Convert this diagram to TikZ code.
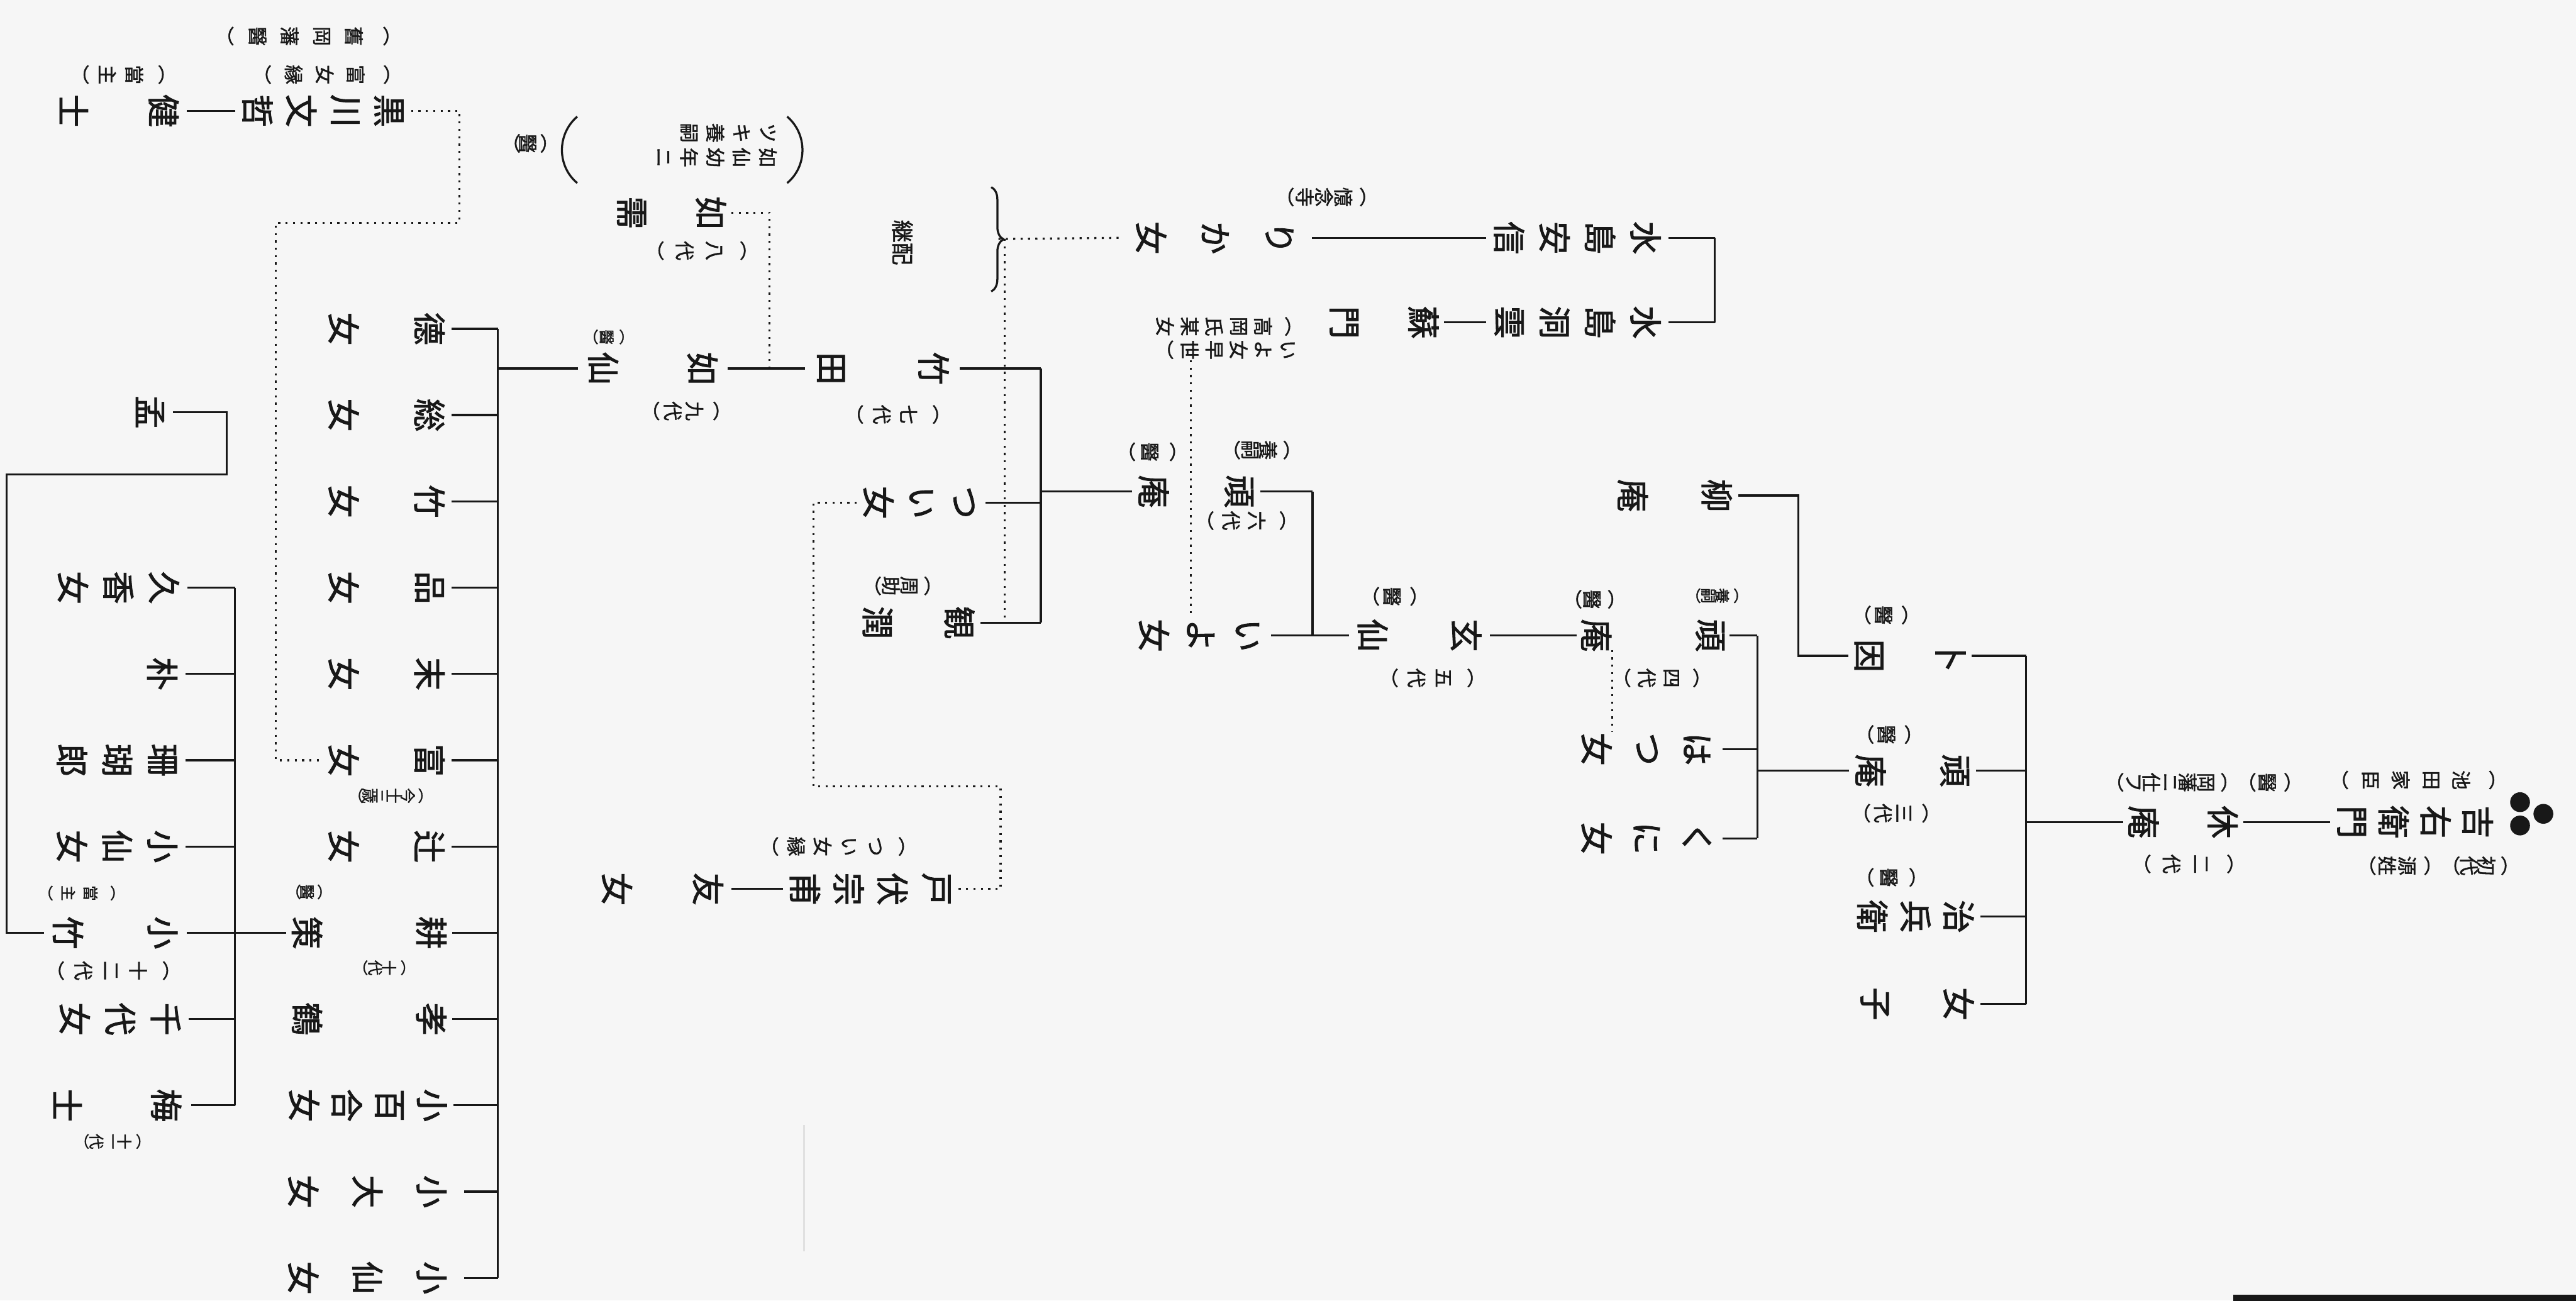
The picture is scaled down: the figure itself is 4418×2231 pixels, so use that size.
\documentclass[tikz,border=0pt]{standalone}
\usepackage{fontspec}
\newfontfamily\jp[FakeBold=1.8]{Noto Sans CJK JP}
\newfontfamily\jpa[FakeBold=1.4]{Noto Sans CJK JP}
\usetikzlibrary{decorations.pathreplacing}
\definecolor{paper}{RGB}{246,246,246}
\definecolor{ink}{RGB}{24,24,24}
\ExplSyntaxOn
\dim_new:N \l_vs_pitch_dim
\NewDocumentCommand\vs{m m}
 {
  \dim_set:Nn \l_vs_pitch_dim {#1}
  \vbox:n
   {
    \offinterlineskip
    \tl_map_inline:nn {#2}
     { \hbox_to_wd:nn {1.05em} { \hss \vbox_to_ht:nn {\l_vs_pitch_dim} { \vss \hbox:n {##1} \vss } \hss } }
   }
 }
\ExplSyntaxOff
\begin{document}
\begin{tikzpicture}[x=0.01cm,y=-0.01cm,
  nm/.style={rotate=-90,anchor=north,inner sep=0pt,text=ink,font=\jp\fontsize{16}{16}\selectfont},
  an/.style={rotate=-90,anchor=north,inner sep=0pt,text=ink,font=\jpa\fontsize{9.5}{9.5}\selectfont},
  as/.style={rotate=-90,anchor=north,inner sep=0pt,text=ink,font=\jpa\fontsize{7.5}{7.5}\selectfont},
  ln/.style={draw=ink,line width=1pt},
  dt/.style={draw=ink,line width=1pt,dash pattern=on 1pt off 2.6pt}]
\fill[paper] (0,0) rectangle (4418,2231);
\useasboundingbox (0,0) rectangle (4418,2231);
% faint show-through line
\draw[black!12,line width=1pt] (1379,1930) -- (1379,2146);
% ---------- root family
\node[nm] (root) at (4286,1410) {\vs{.72cm}{吉右衛門}};
\fill[ink] (4322,1376) circle (0.17cm) (4322,1416) circle (0.17cm) (4362,1396) circle (0.17cm);
\node[an] (aR1) at (4300,1338) {\vs{.52cm}{︵池田家臣︶}};
\node[an] (aR2) at (4310,1485) {\vs{.3cm}{︵初代︶}};
\node[an] (aR3) at (4180,1485) {\vs{.34cm}{︵源姓︶}};
\node[nm] (kyuan) at (3847,1410) {\vs{.68cm}{休　庵}};
\node[an] (aK1) at (3940,1342) {\vs{.34cm}{︵醫︶}};
\node[an] (aK2) at (3830,1342) {\vs{.31cm}{︵岡藩ニ仕フ︶}};
\node[an] (aK3) at (3850,1482) {\vs{.5cm}{︵二代︶}};
\node[nm] (bokuin) at (3381,1125) {\vs{.70cm}{卜　因}};
\node[an] (aB1) at (3285,1055) {\vs{.36cm}{︵醫︶}};
\node[nm] (ganan3) at (3389,1322) {\vs{.72cm}{頑　庵}};
\node[an] (aG3a) at (3290,1260) {\vs{.36cm}{︵醫︶}};
\node[an] (aG3b) at (3320,1395) {\vs{.36cm}{︵三代︶}};
\node[nm] (jihei) at (3397,1572) {\vs{.74cm}{治兵衛}};
\node[an] (aJ) at (3300,1505) {\vs{.4cm}{︵醫︶}};
\node[nm] (joshi) at (3396,1722) {\vs{.72cm}{女　子}};
\coordinate (bRt) at (3475,1125);
\coordinate (bRb) at (3475,1722);
\draw[ln] (root.south) -- (kyuan.north);
\draw[ln] (bRt) -- (bRb);
\draw[ln] (kyuan.south) -- (kyuan.south -| bRt);
\foreach \c in {bokuin,ganan3,jihei,joshi} \draw[ln] (bRt |- \c.north) -- (\c.north);
% ---------- bokuin -> ryuan
\node[nm] (ryuan) at (2981,850) {\vs{.72cm}{柳　庵}};
\coordinate (kR) at (3084,1000);
\draw[ln] (bokuin.south) -| (kR) |- (ryuan.north);
% ---------- ganan3 children
\node[nm] (ganan4) at (2966,1090) {\vs{.65cm}{頑　　庵}};
\node[as] (aG4a) at (2990,1022) {\vs{.24cm}{︵養嗣︶}};
\node[an] (aG4b) at (2779,1028) {\vs{.32cm}{︵醫︶}};
\node[an] (aG4c) at (2930,1163) {\vs{.42cm}{︵四代︶}};
\node[nm] (hatsu) at (2954,1285) {\vs{.86cm}{はつ女}};
\node[nm] (kuni) at (2954,1438) {\vs{.86cm}{くに女}};
\coordinate (b3t) at (3014,1090);
\coordinate (b3b) at (3014,1438);
\draw[ln] (b3t) -- (b3b);
\draw[ln] (ganan3.south) -- (ganan3.south -| b3t);
\foreach \c in {ganan4,hatsu,kuni} \draw[ln] (b3t |- \c.north) -- (\c.north);
\coordinate (dh) at (2765,1115);
\draw[dt] (dh) -- (dh |- hatsu.west);
% ---------- gensen
\node[nm] (gensen) at (2555,1090) {\vs{.80cm}{玄　仙}};
\node[an] (aGs1) at (2442,1023) {\vs{.36cm}{︵醫︶}};
\node[an] (aGs2) at (2545,1163) {\vs{.46cm}{︵五代︶}};
\draw[ln] (ganan4.south) -- (gensen.north);
\node[nm] (ganan6) at (2162,843) {\vs{.73cm}{頑　庵}};
\node[an] (aG6a) at (2222,772) {\vs{.31cm}{︵養嗣︶}};
\node[an] (aG6b) at (2031,775) {\vs{.39cm}{︵醫︶}};
\node[an] (aG6c) at (2222,893) {\vs{.44cm}{︵六代︶}};
\node[nm] (iyo) at (2180,1090) {\vs{.80cm}{いよ女}};
\coordinate (b5t) at (2251,843);
\coordinate (b5b) at (2251,1090);
\draw[ln] (b5t) -- (b5b);
\draw[ln] (gensen.south) -- (b5b) -- (iyo.north);
\draw[ln] (b5t) -- (ganan6.north);
% ---------- mizushima
\node[nm] (mizu1) at (2862,408) {\vs{.78cm}{水島安信}};
\node[nm] (mizu2) at (2862,553) {\vs{.78cm}{水島洞雲}};
\node[nm] (somon) at (2476,553) {\vs{.68cm}{蘇　門}};
\node[nm] (rika) at (2250,408) {\vs{1.1cm}{りか女}};
\node[an] (aRk) at (2354,338) {\vs{.33cm}{︵憶念寺︶}};
\node[an] (aTk1) at (2230,560) {\vs{.42cm}{︵高岡氏某女}};
\node[an] (aTk2) at (2230,600) {\vs{.42cm}{いよ女早世︶}};
\coordinate (bMt) at (2941,408);
\coordinate (bMb) at (2941,553);
\draw[ln] (bMt) -- (bMb);
\draw[ln] (bMt) -- (mizu1.north);
\draw[ln] (bMb) -- (mizu2.north);
\draw[ln] (mizu2.south) -- (somon.north);
\draw[ln] (mizu1.south) -- (rika.north);
\coordinate (dI) at (2042,618);
\draw[dt] (dI) -- (dI |- iyo.west);
% ---------- keihai
\coordinate (bt) at (1712,410);
\draw[ln,decorate,decoration={brace,amplitude=6pt}] (1700,321) -- (1700,500);
\node[rotate=-90,inner sep=0pt,text=ink,font=\jpa\fontsize{11}{11}\selectfont] (keihai) at (1548,416) {継配};
\draw[dt] (rika.south) -- (bt);
% ---------- ganan6 children
\node[nm] (takeda) at (1646,632) {\vs{.88cm}{竹　田}};
\node[an] (aT) at (1628,711) {\vs{.46cm}{︵七代︶}};
\node[nm] (tsui) at (1690,862) {\vs{.73cm}{つい女}};
\node[nm] (kanjun) at (1681,1068) {\vs{.70cm}{観　潤}};
\node[an] (aKj) at (1606,1005) {\vs{.31cm}{︵周助︶}};
\coordinate (b6t) at (1785,632);
\coordinate (b6b) at (1785,1068);
\draw[ln] (b6t) -- (b6b);
\draw[ln] (ganan6.south) -- (ganan6.south -| b6t);
\foreach \c in {takeda,tsui,kanjun} \draw[ln] (b6t |- \c.north) -- (\c.north);
\coordinate (dk) at (1723,410);
\draw[dt] (dk) -- (dk |- kanjun.north);
% ---------- tobuse
\node[nm] (tobuse) at (1644,1525) {\vs{.75cm}{戸伏宗甫}};
\node[an] (aTb) at (1569,1452) {\vs{.45cm}{︵つい女縁︶}};
\node[nm] (tomo) at (1254,1525) {\vs{.78cm}{友　女}};
\draw[ln] (tobuse.south) -- (tomo.north);
\draw[dt] (tsui.south) -- (1395,862) -- (1395,1349) -- (1716,1349) |- (tobuse.north);
% ---------- nyosen 9
\node[nm] (nyosen9) at (1248,632) {\vs{.85cm}{如　仙}};
\node[an] (aN9a) at (1247,705) {\vs{.37cm}{︵九代︶}};
\node[as] (aN9b) at (1080,578) {\vs{.26cm}{︵醫︶}};
\draw[ln] (takeda.south) -- (nyosen9.north);
% ---------- eighth generation
\node[an] (aH1) at (1340,228) {\vs{.45cm}{ツキ養嗣}};
\node[an] (aH2) at (1340,270) {\vs{.45cm}{如仙幼年ニ}};
\draw[ln] (1350,200) .. controls (1385,230) and (1385,285) .. (1350,314);
\draw[ln] (990,200) .. controls (955,230) and (955,285) .. (990,314);
\node[an] (aH3) at (946,246) {\vs{.27cm}{︵醫︶}};
\node[nm] (hachi) at (1254,365) {\vs{.68cm}{如　需}};
\node[an] (aH4) at (1300,430) {\vs{.5cm}{︵八代︶}};
\draw[dt] (1320,632) -- (1320,365) -- (hachi.north);
% ---------- children of nyosen 9
\node[nm] (k0) at (774,564) {\vs{.735cm}{德　女}};
\node[nm] (k1) at (774,712) {\vs{.735cm}{総　女}};
\node[nm] (k2) at (774,860) {\vs{.735cm}{竹　女}};
\node[nm] (k3) at (774,1008) {\vs{.735cm}{品　女}};
\node[nm] (k4) at (774,1156) {\vs{.735cm}{末　女}};
\node[nm] (k5) at (774,1304) {\vs{.735cm}{富　女}};
\node[as] (aK5) at (733,1365) {\vs{.22cm}{︵今十三歳︶}};
\node[nm] (k6) at (774,1452) {\vs{.735cm}{辻　女}};
\node[nm] (k7) at (776,1600) {\vs{.71cm}{耕　　策}};
\node[as] (aK7a) at (704,1660) {\vs{.24cm}{︵十代︶}};
\node[as] (aK7b) at (560,1530) {\vs{.22cm}{︵醫︶}};
\node[nm] (k8) at (776,1748) {\vs{.71cm}{孝　　鶴}};
\node[nm] (k9) at (778,1896) {\vs{.73cm}{小百合女}};
\node[nm] (k10) at (796,2044) {\vs{1.1cm}{小大女}};
\node[nm] (k11) at (796,2192) {\vs{1.1cm}{小仙女}};
\coordinate (b9t) at (854,564);
\coordinate (b9b) at (854,2192);
\draw[ln] (b9t) -- (b9b);
\draw[ln] (nyosen9.south) -- (nyosen9.south -| b9t);
\foreach \c in {k0,k1,k2,k3,k4,k5,k6,k7,k8,k9,k10,k11} \draw[ln] (b9t |- \c.north) -- (\c.north);
% ---------- children of kosaku
\node[nm] (kuka) at (321,1008) {\vs{.78cm}{久香女}};
\node[nm] (boku) at (318,1156) {\vs{.78cm}{朴}};
\node[nm] (sango) at (318,1304) {\vs{.775cm}{珊瑚郎}};
\node[nm] (kosen) at (318,1452) {\vs{.775cm}{小仙女}};
\node[nm] (kotake) at (320,1600) {\vs{.81cm}{小　竹}};
\node[as] (aKt1) at (213,1532) {\vs{.38cm}{︵當主︶}};
\node[an] (aKt2) at (308,1665) {\vs{.47cm}{︵十二代︶}};
\node[nm] (chiyo) at (324,1748) {\vs{.78cm}{千代女}};
\node[nm] (baishi) at (328,1896) {\vs{.845cm}{梅　士}};
\node[as] (aBs) at (250,1958) {\vs{.24cm}{︵十一代︶}};
\coordinate (bKt) at (403,1008);
\coordinate (bKb) at (403,1896);
\draw[ln] (bKt) -- (bKb);
\draw[ln] (k7.south) -- (k7.south -| bKt);
\foreach \c in {kuka,boku,sango,kosen,kotake,chiyo,baishi} \draw[ln] (bKt |- \c.north) -- (\c.north);
\node[nm] (mou) at (297,707) {\vs{.78cm}{孟}};
\draw[ln] (kotake.south) -- (11,1600) -- (11,814) -- (389,814) |- (mou.north);
% ---------- kurokawa
\node[nm] (kurokawa) at (705,190) {\vs{.75cm}{黒川文哲}};
\node[nm] (ken) at (320,190) {\vs{.77cm}{健　士}};
\node[an] (aKr1) at (690,62) {\vs{.55cm}{︵舊岡藩醫︶}};
\node[an] (aKr2) at (690,128) {\vs{.53cm}{︵富女縁︶}};
\node[an] (aKr3) at (300,128) {\vs{.46cm}{︵當主︶}};
\draw[ln] (kurokawa.south) -- (ken.north);
\draw[dt] (kurokawa.north) -- (788,190) -- (788,382) -- (473,382) |- (k5.south);
% ---------- page edge
\draw[ink,line width=3pt] (3830,2226) -- (4418,2226);
\end{tikzpicture}
\end{document}
